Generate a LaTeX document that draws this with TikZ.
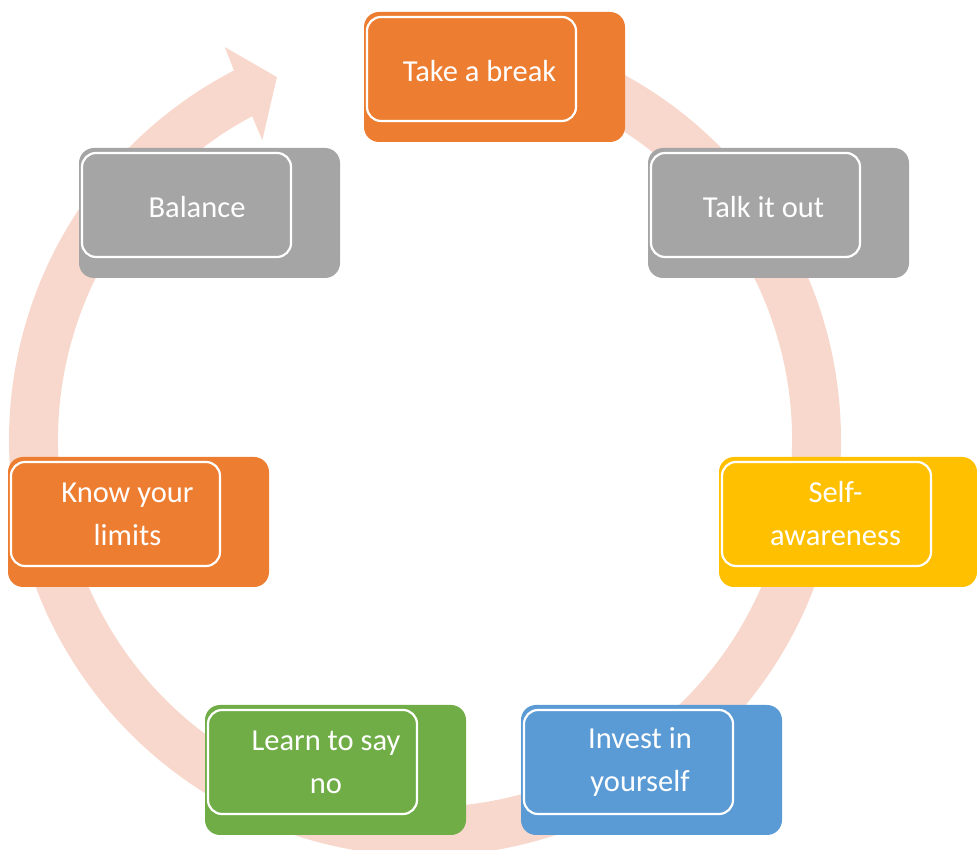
\documentclass[tikz,border=0pt]{standalone}
\usepackage{fontspec}
\setmainfont{Carlito}
\usepackage{tikz}
\usetikzlibrary{calc}
\definecolor{ringpink}{HTML}{F8D8CD}
\definecolor{boxorange}{HTML}{ED7D31}
\definecolor{boxgray}{HTML}{A5A5A5}
\definecolor{boxyellow}{HTML}{FFC000}
\definecolor{boxblue}{HTML}{5B9BD5}
\definecolor{boxgreen}{HTML}{70AD47}
\tikzset{
   outerbox/.style={rounded corners=15pt, minimum width=261pt,
      minimum height=130pt, inner sep=0pt},
   innerbox/.style={draw=white, line width=2.2pt, rounded corners=14pt,
      minimum width=209pt, minimum height=104pt, inner sep=0pt},
   boxtext/.style={text=white, align=center, inner sep=0pt,
      font=\fontsize{30.5}{43}\selectfont},
   ring/.style={fill=ringpink},
    }
\begin{document}
\begin{tikzpicture}[x=1pt,y=1pt]
            \useasboundingbox (0,0) rectangle (977,850);
            % cycle arrow
            \begin{scope}[shift={(425,410)}]
            \fill[ring] (92:416pt) arc[start angle=92, end angle=-242.65, radius=416pt]
               -- (-243:441pt) -- (-247.8:392pt) -- (-241.5:341pt)
               -- (-241.9:367pt) arc[start angle=-241.9, end angle=92, radius=367pt] -- cycle;
            \end{scope}
            % boxes
            \node[outerbox, fill=boxorange] (breakBox) at (494.5,773) {};
            \node[innerbox] (break) at (471.5,781) {};
            \node[boxtext] at (479.5,779) {Take a break};
            \node[outerbox, fill=boxgray] (talkBox) at (778.5,637) {};
            \node[innerbox] (talk) at (755.5,645) {};
            \node[boxtext] at (763.5,643) {Talk it out};
            \node[outerbox, fill=boxyellow, minimum width=258pt] (selfBox) at (848,328) {};
            \node[innerbox] (self) at (826.5,336) {};
            \node[boxtext] at (835.5,336) {Self-\\awareness};
            \node[outerbox, fill=boxblue] (investBox) at (651.5,80) {};
            \node[innerbox] (invest) at (628.5,88) {};
            \node[boxtext] at (640,88) {Invest in\\yourself};
            \node[outerbox, fill=boxgreen] (learnBox) at (335.5,80) {};
            \node[innerbox] (learn) at (312.5,88) {};
            \node[boxtext] at (326,88) {Learn to say\\no};
            \node[outerbox, fill=boxorange] (limitsBox) at (138.5,328) {};
            \node[innerbox] (limits) at (115.5,336) {};
            \node[boxtext] at (127.5,336) {Know your\\limits};
            \node[outerbox, fill=boxgray] (balanceBox) at (209.5,637) {};
            \node[innerbox] (balance) at (186.5,645) {};
            \node[boxtext] at (197,643) {Balance};
\end{tikzpicture}
\end{document}
